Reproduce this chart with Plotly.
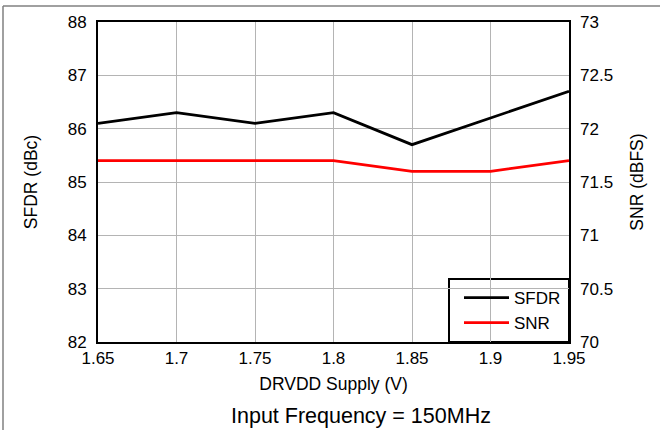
import plotly.graph_objects as go

supply = [1.65, 1.7, 1.75, 1.8, 1.85, 1.9, 1.95]
sfdr = [86.1, 86.3, 86.1, 86.3, 85.7, 86.2, 86.7]
snr = [71.7, 71.7, 71.7, 71.7, 71.6, 71.6, 71.7]
x_ticks = [1.65, 1.7, 1.75, 1.8, 1.85, 1.9, 1.95]
x_tick_text = ["1.65", "1.7", "1.75", "1.8", "1.85", "1.9", "1.95"]
left_ticks = [82, 83, 84, 85, 86, 87, 88]
right_ticks = [70, 70.5, 71, 71.5, 72, 72.5, 73]
right_tick_text = ["70", "70.5", "71", "71.5", "72", "72.5", "73"]

FONT = "Liberation Sans, Arial, sans-serif"

fig = go.Figure()
fig.add_trace(go.Scatter(x=supply, y=sfdr, mode="lines", name="SFDR",
                         line=dict(color="black", width=2.8)))
fig.add_trace(go.Scatter(x=supply, y=snr, mode="lines", name="SNR", yaxis="y2",
                         line=dict(color="#ff0000", width=2.8)))

W, H = 660, 430
L, R, T, B = 98, 91, 22, 88
pw, ph = W - L - R, H - T - B

fig.update_layout(
    width=W, height=H,
    margin=dict(l=L, r=R, t=T, b=B, pad=0, autoexpand=False),
    paper_bgcolor="white", plot_bgcolor="white",
    font=dict(family=FONT, size=17, color="black"),
    xaxis=dict(range=[1.65, 1.95], tickmode="array", tickvals=x_ticks, ticktext=x_tick_text,
               showgrid=True, gridcolor="#b4b4b4", gridwidth=1, zeroline=False,
               showline=True, linecolor="black", linewidth=2, mirror=True, ticks="",
               automargin=False,
               title=dict(text="DRVDD Supply (V)", font=dict(size=17.5), standoff=10),
               tickfont=dict(size=17)),
    yaxis=dict(range=[82, 88], tickmode="array", tickvals=left_ticks,
               showgrid=True, gridcolor="#b4b4b4", gridwidth=1, zeroline=False,
               showline=True, linecolor="black", linewidth=2, mirror=True, ticks="",
               ticklabelstandoff=6, automargin=False,
               title=dict(text="SFDR (dBc)", font=dict(size=17.5), standoff=26),
               tickfont=dict(size=17)),
    yaxis2=dict(range=[70, 73], tickmode="array", tickvals=right_ticks, ticktext=right_tick_text,
                overlaying="y", side="right", showgrid=False, zeroline=False,
                showline=False, ticks="", ticklabelstandoff=10, automargin=False,
                title=dict(text="SNR (dBFS)", font=dict(size=17.5), standoff=18),
                tickfont=dict(size=17)),
    legend=dict(x=(459 - L) / pw, y=1 - (280 - T) / ph, xanchor="left", yanchor="top",
                borderwidth=0, bgcolor="rgba(0,0,0,0)",
                font=dict(size=17), itemwidth=45, tracegroupgap=0),
    showlegend=True,
)

# legend frame
fig.add_shape(type="rect", xref="paper", yref="paper",
              x0=(449 - L) / pw, x1=1, y0=0, y1=(342 - 279) / ph,
              line=dict(color="black", width=2), fillcolor="white", layer="between")

# bottom caption
fig.add_annotation(text="Input Frequency = 150MHz", xref="paper", yref="paper",
                   x=(361 - L) / pw, y=-(416 - T - ph) / ph, showarrow=False,
                   font=dict(size=21.5), xanchor="center", yanchor="middle")

# outer frame lines (top and left)
ytop = 1 + (T - 6) / ph
xleft = (3 - L) / pw
fig.add_shape(type="line", xref="paper", yref="paper", x0=xleft, x1=(W - L) / pw,
              y0=ytop, y1=ytop, line=dict(color="#808080", width=1.5))
fig.add_shape(type="line", xref="paper", yref="paper", x0=xleft, x1=xleft,
              y0=ytop, y1=-(H - T - ph) / ph, line=dict(color="#808080", width=1.5))

fig.write_html("out.html", config={"displayModeBar": False},
               post_script="document.body.style.margin='0px';document.body.style.overflow='hidden';")
